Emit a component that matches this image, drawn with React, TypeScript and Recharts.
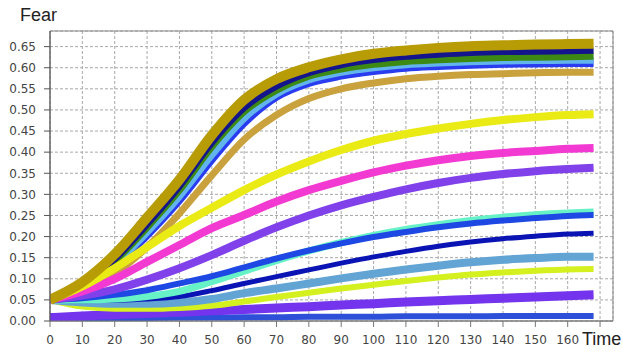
import React from 'react';
import { LineChart, Line, XAxis, YAxis, CartesianGrid, ReferenceArea } from 'recharts';

const times = [0, 10, 20, 30, 40, 50, 60, 70, 80, 90, 100, 110, 120, 130, 140, 150, 160, 168];

const olive = [0.05, 0.092, 0.158, 0.245, 0.335, 0.44, 0.524, 0.573, 0.601, 0.62, 0.633, 0.641, 0.647, 0.651, 0.653, 0.655, 0.656, 0.657];
const navyTop = [0.05, 0.086, 0.146, 0.228, 0.318, 0.421, 0.504, 0.555, 0.587, 0.606, 0.618, 0.626, 0.631, 0.635, 0.637, 0.638, 0.639, 0.64];
const green = [0.05, 0.084, 0.142, 0.222, 0.31, 0.413, 0.496, 0.547, 0.58, 0.597, 0.608, 0.615, 0.619, 0.622, 0.624, 0.625, 0.626, 0.627];
const lightBlue = [0.05, 0.08, 0.134, 0.21, 0.295, 0.393, 0.48, 0.538, 0.571, 0.589, 0.6, 0.607, 0.611, 0.614, 0.616, 0.617, 0.618, 0.618];
const blueTop = [0.05, 0.077, 0.129, 0.202, 0.285, 0.381, 0.468, 0.53, 0.563, 0.58, 0.591, 0.599, 0.603, 0.606, 0.608, 0.609, 0.61, 0.61];
const tan = [0.05, 0.07, 0.112, 0.175, 0.255, 0.345, 0.43, 0.488, 0.527, 0.55, 0.564, 0.574, 0.58, 0.584, 0.586, 0.588, 0.589, 0.589];
const yellow = [0.05, 0.082, 0.125, 0.175, 0.225, 0.268, 0.31, 0.347, 0.378, 0.405, 0.427, 0.443, 0.456, 0.467, 0.476, 0.483, 0.488, 0.49];
const magenta = [0.05, 0.07, 0.1, 0.14, 0.18, 0.22, 0.251, 0.283, 0.31, 0.332, 0.352, 0.368, 0.381, 0.391, 0.398, 0.403, 0.408, 0.41];
const purple = [0.05, 0.06, 0.075, 0.098, 0.125, 0.156, 0.19, 0.222, 0.25, 0.274, 0.294, 0.312, 0.327, 0.339, 0.348, 0.355, 0.36, 0.363];
const aqua = [0.05, 0.05, 0.052, 0.058, 0.07, 0.093, 0.118, 0.143, 0.166, 0.186, 0.203, 0.217, 0.228, 0.238, 0.246, 0.252, 0.256, 0.258];
const blueMid = [0.05, 0.054, 0.062, 0.073, 0.089, 0.106, 0.127, 0.148, 0.167, 0.184, 0.199, 0.211, 0.222, 0.231, 0.238, 0.244, 0.249, 0.251];
const navyMid = [0.05, 0.048, 0.049, 0.052, 0.058, 0.072, 0.089, 0.105, 0.121, 0.137, 0.152, 0.165, 0.177, 0.187, 0.195, 0.201, 0.206, 0.208];
const steel = [0.05, 0.044, 0.041, 0.041, 0.044, 0.052, 0.066, 0.077, 0.089, 0.101, 0.112, 0.122, 0.131, 0.139, 0.145, 0.149, 0.152, 0.152];
const yellowGreen = [0.05, 0.034, 0.029, 0.029, 0.031, 0.036, 0.046, 0.057, 0.067, 0.077, 0.086, 0.095, 0.103, 0.11, 0.115, 0.119, 0.122, 0.123];
const violet = [0.008, 0.012, 0.015, 0.018, 0.021, 0.024, 0.027, 0.031, 0.034, 0.038, 0.041, 0.045, 0.048, 0.051, 0.054, 0.057, 0.06, 0.062];
const blueLow = [0.003, 0.005, 0.006, 0.007, 0.008, 0.008, 0.009, 0.009, 0.01, 0.01, 0.01, 0.011, 0.011, 0.011, 0.012, 0.012, 0.012, 0.012];

const xTicks = [0, 10, 20, 30, 40, 50, 60, 70, 80, 90, 100, 110, 120, 130, 140, 150, 160, 170];
const yTicks = [0, 0.05, 0.1, 0.15, 0.2, 0.25, 0.3, 0.35, 0.4, 0.45, 0.5, 0.55, 0.6, 0.65];

const series = [
  { key: 'tan', values: tan, color: '#C9A23E', width: 7 },
  { key: 'blueTop', values: blueTop, color: '#2A3CF0', width: 7 },
  { key: 'lightBlue', values: lightBlue, color: '#62B4EC', width: 7 },
  { key: 'green', values: green, color: '#3C8A14', width: 7 },
  { key: 'navyTop', values: navyTop, color: '#14148C', width: 6 },
  { key: 'blueLow', values: blueLow, color: '#2E50D8', width: 6 },
  { key: 'violet', values: violet, color: '#7434EE', width: 9 },
  { key: 'yellowGreen', values: yellowGreen, color: '#D4F01E', width: 6 },
  { key: 'steel', values: steel, color: '#62A4D4', width: 8 },
  { key: 'navyMid', values: navyMid, color: '#0A14B4', width: 5 },
  { key: 'aqua', values: aqua, color: '#66F2C6', width: 7 },
  { key: 'blueMid', values: blueMid, color: '#1E48E4', width: 6 },
  { key: 'purple', values: purple, color: '#8040EA', width: 8 },
  { key: 'magenta', values: magenta, color: '#F23AD2', width: 8 },
  { key: 'yellow', values: yellow, color: '#EAEA14', width: 8 },
  { key: 'olive', values: olive, color: '#B89C06', width: 10 },
];

const data = times.map((t, i) => {
  const row: Record<string, number> = { t };
  series.forEach((s) => {
    row[s.key] = s.values[i];
  });
  return row;
});

const tickStyle = { fontSize: 12, fill: '#444', fontFamily: 'DejaVu Sans' };

export default function App() {
  return (
    <div style={{ position: 'absolute', left: 0, top: 0, width: 623, height: 356, background: '#fff' }}>
      <LineChart width={623} height={356} data={data} margin={{ top: 31, right: 10, left: 0, bottom: 5 }}>
        <CartesianGrid stroke="#a8a8a8" strokeDasharray="3 2" />
        <XAxis
          dataKey="t"
          type="number"
          domain={[0, 174]}
          ticks={xTicks}
          interval={0}
          allowDataOverflow
          tickFormatter={(v: number) => (v === 170 ? '' : String(v))}
          tick={tickStyle}
          tickSize={6}
          tickMargin={8}
          height={30}
          stroke="#777"
        />
        <YAxis
          type="number"
          domain={[0, 0.687]}
          ticks={yTicks}
          interval={0}
          allowDataOverflow
          tickFormatter={(v: number) => v.toFixed(2)}
          tick={tickStyle}
          width={50}
          tickSize={6}
          tickMargin={8}
          stroke="#555"
        />
        <ReferenceArea x1={0} x2={174} y1={0} y2={0.687} fill="none" stroke="#888" strokeWidth={1} ifOverflow="visible" />
        {series.map((s) => (
          <Line
            key={s.key}
            type="monotone"
            dataKey={s.key}
            stroke={s.color}
            strokeWidth={s.width}
            dot={false}
            isAnimationActive={false}
          />
        ))}
      </LineChart>
      <svg width={623} height={356} style={{ position: 'absolute', left: 0, top: 0, pointerEvents: 'none' }}>
        <text x={20} y={20.5} fontSize={18} fontFamily="Liberation Sans" fill="#222">Fear</text>
        <text x={582} y={345} fontSize={18} fontFamily="Liberation Sans" fill="#222">Time</text>
      </svg>
    </div>
  );
}
